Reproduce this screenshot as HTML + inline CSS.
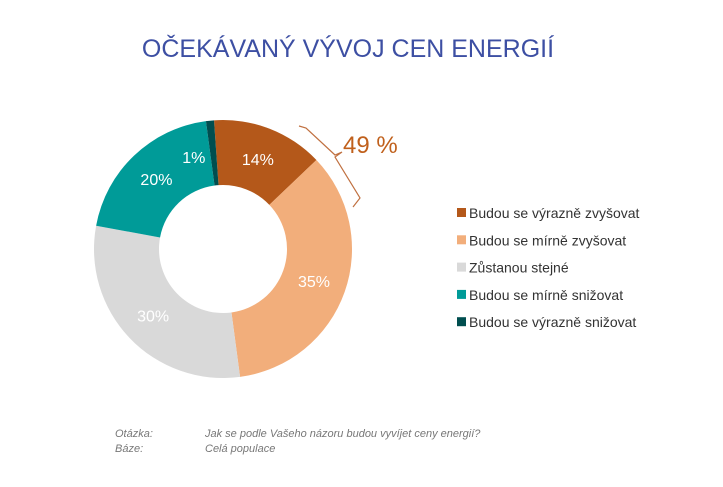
<!DOCTYPE html>
<html><head><meta charset="utf-8"><style>
body{margin:0;background:#fff;width:723px;height:482px;overflow:hidden;font-family:"Liberation Sans",sans-serif}
</style></head><body>
<svg width="723" height="482">
<text x="348" y="57" text-anchor="middle" font-size="25" fill="#3d4fa3">OČEKÁVANÝ VÝVOJ CEN ENERGIÍ</text>
<g id="donut"></g>
<polyline points="299,126 306,128 335,155 342,152 335,157 360,198 353,207" fill="none" stroke="#c07040" stroke-width="1.2"/>
<text x="343" y="153" font-size="24" fill="#c0601c">49 %</text>
<g id="legend"></g>
<g font-size="11" font-style="italic" fill="#777">
<text x="115" y="437">Otázka:</text>
<text x="205" y="437">Jak se podle Vašeho názoru budou vyvíjet ceny energií?</text>
<text x="115" y="452">Báze:</text>
<text x="205" y="452">Celá populace</text>
</g>
</svg>
<script>
const categories=["Budou se výrazně zvyšovat","Budou se mírně zvyšovat","Zůstanou stejné","Budou se mírně snižovat","Budou se výrazně snižovat"];
const values=[14,35,30,20,1];
const labels=["14%","35%","30%","20%","1%"];
const colors=["#b4581a","#f2ae7b","#d9d9d9","#009b98","#004e4f"];
const NS="http://www.w3.org/2000/svg";
const cx=223,cy=249,R=129,r=64,start=-4;
const total=values.reduce((a,b)=>a+b,0);
const donut=document.getElementById('donut');
function pt(a,rad){const t=(a-90)*Math.PI/180;return [cx+rad*Math.cos(t),cy+rad*Math.sin(t)];}
let a=start;
values.forEach((v,i)=>{
 const sw=v/total*360,a2=a+sw,lg=sw>180?1:0;
 const [x1,y1]=pt(a,R),[x2,y2]=pt(a2,R),[x3,y3]=pt(a2,r),[x4,y4]=pt(a,r);
 const p=document.createElementNS(NS,'path');
 p.setAttribute('d',`M${x1},${y1}A${R},${R} 0 ${lg} 1 ${x2},${y2}L${x3},${y3}A${r},${r} 0 ${lg} 0 ${x4},${y4}Z`);
 p.setAttribute('fill',colors[i]);
 
 
 donut.appendChild(p);
 const m=a+sw/2;let [lx,ly]=pt(m,(R+r)/2);
 if(v<3){[lx,ly]=pt(a-10,(R+r)/2);}
 const t=document.createElementNS(NS,'text');
 t.setAttribute('x',lx);t.setAttribute('y',ly+6);t.setAttribute('text-anchor','middle');
 t.setAttribute('font-size','16');t.setAttribute('fill','#fff');
 
 
 t.textContent=labels[i];donut.appendChild(t);
 a=a2;
});
const lg=document.getElementById('legend');
categories.forEach((c,i)=>{
 const y=213+i*27.3;
 const s=document.createElementNS(NS,'rect');
 s.setAttribute('x',457);s.setAttribute('y',y-5);s.setAttribute('width',9);s.setAttribute('height',9);s.setAttribute('fill',colors[i]);
 
 
 lg.appendChild(s);
 const t=document.createElementNS(NS,'text');
 t.setAttribute('x',469);t.setAttribute('y',y+5);t.setAttribute('font-size','14');t.setAttribute('fill','#333');
 
 
 t.textContent=c;lg.appendChild(t);
});
</script>
</body></html>
